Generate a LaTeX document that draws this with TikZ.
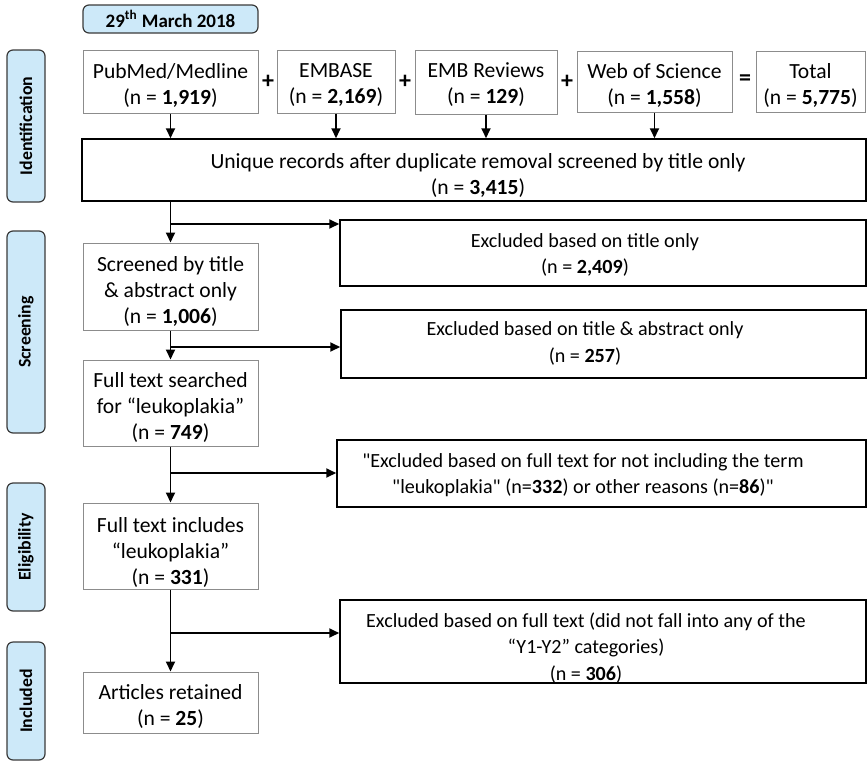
\documentclass[tikz,border=0pt]{standalone}
\usepackage{fontspec}
\setmainfont{Carlito}
\usetikzlibrary{arrows.meta,calc}
\definecolor{lblue}{HTML}{CDE9F9}
\definecolor{gbord}{HTML}{8C8C8C}
\definecolor{sideb}{HTML}{3A3A3A}
\newcommand\bx[8]{%
 \pgfmathsetmacro\bxcx{(#2+#4)/2}\pgfmathsetmacro\bxcy{(#3+#5)/2}%
 \pgfmathsetmacro\bxw{(#4-#2)*0.5}\pgfmathsetmacro\bxh{(#5-#3)*0.5}%
 \node[#6, minimum width=\bxw pt, minimum height=\bxh pt] (#1) at (\bxcx,\bxcy) {};
 \node[txt] (#1t) at (\bxcx,#7) {#8};}
\newcommand\bxt[9]{%
 \pgfmathsetmacro\bxcx{(#2+#4)/2}\pgfmathsetmacro\bxcy{(#3+#5)/2}%
 \pgfmathsetmacro\bxw{(#4-#2)*0.5}\pgfmathsetmacro\bxh{(#5-#3)*0.5}%
 \node[#6, minimum width=\bxw pt, minimum height=\bxh pt] (#1) at (\bxcx,\bxcy) {};
 \node[etxt] (#1t) at (#7,#8) {#9};}
\newcommand\sidelab[4]{%
 \pgfmathsetmacro\bxcy{(#2+#3)/2}\pgfmathsetmacro\bxh{(#3-#2)*0.5}%
 \node[side, minimum width=\bxh pt, minimum height=19pt, rotate=90] (#1) at (26,\bxcy) {#4};}
\newcommand\qd{\textquotedbl}
\begin{document}
\begin{tikzpicture}[x=0.5pt,y=-0.5pt,
  txt/.style={font=\fontsize{10.8}{13}\selectfont, align=center, inner sep=0pt},
  etxt/.style={font=\fontsize{10.05}{13.2}\selectfont, align=center, inner sep=0pt},
  gbox/.style={draw=gbord, line width=0.5pt, inner sep=0pt},
  kbox/.style={draw=black, line width=0.75pt, inner sep=0pt},
  side/.style={draw=sideb, fill=lblue, rounded corners=3pt, line width=0.6pt, inner sep=0pt,
    font=\fontsize{8.9}{11}\selectfont\bfseries},
  arr/.style={draw, line width=0.9pt, -{Triangle[length=5pt,width=4.5pt]}},
  op/.style={font=\fontsize{12}{14}\selectfont\bfseries, inner sep=0pt}]
\useasboundingbox (0,0) rectangle (868,762);
% date
\node[side, font=\fontsize{9.5}{11}\selectfont\bfseries, minimum width=87.5pt, minimum height=14pt] (date) at (170.5,19) {29\textsuperscript{th} March 2018};
% side labels
\sidelab{sid}{50}{202}{Identification}
\sidelab{sscr}{231}{433}{Screening}
\sidelab{selig}{483}{611}{Eligibility}
\sidelab{sinc}{642}{760}{Included}
% top row
\bx{pub}{83}{50}{258}{113}{gbox}{85}{PubMed/Medline\\(n = \textbf{1,919})}
\bx{emb}{277}{50}{395}{113}{gbox}{85}{EMBASE\\(n = \textbf{2,169})}
\bx{rev}{415}{50}{557}{114}{gbox}{85}{EMB Reviews\\(n = \textbf{129})}
\bx{wos}{577}{51}{732}{112}{gbox}{85}{Web of Science\\(n = \textbf{1,558})}
\bx{tot}{756}{51}{865}{112}{gbox}{85}{Total\\(n = \textbf{5,775})}
\node[op] (p1) at (268,82) {+};
\node[op] (p2) at (405,82) {+};
\node[op] (p3) at (567,82) {+};
\node[op] (eq) at (745,80) {=};
% unique
\node[kbox, minimum width=392pt, minimum height=31pt] (uniq) at (474,170) {};
\node[txt] (uniqt) at (478,175) {Unique records after duplicate removal screened by title only\\(n = \textbf{3,415})};
% left column
\bx{scr}{83}{243}{258}{330}{gbox}{291.5}{Screened by title\\\& abstract only\\(n = \textbf{1,006})}
\bx{ft}{83}{360}{258}{446}{gbox}{407}{Full text searched\\for “leukoplakia”\\(n = \textbf{749})}
\bx{inc}{83}{503}{258}{589}{gbox}{552}{Full text includes\\“leukoplakia”\\(n = \textbf{331})}
\bx{art}{83}{672}{258}{733}{gbox}{706}{Articles retained\\(n = \textbf{25})}
% exclusion boxes
\bxt{exa}{340}{220}{866}{286}{kbox}{585}{255}{Excluded based on title only\\(n = \textbf{2,409})}
\bxt{exb}{341}{310}{866}{378}{kbox}{585}{343.5}{Excluded based on title \& abstract only\\(n = \textbf{257})}
\bxt{exc}{337}{440}{866}{507}{kbox}{583}{475}{\qd Excluded based on full text for not including the term\\\qd leukoplakia\qd{} (n=\textbf{332}) or other reasons (n=\textbf{86})\qd}
\bxt{exd}{340}{600}{866}{683}{kbox}{586}{648}{Excluded based on full text (did not fall into any of the\\“Y1-Y2” categories)\\(n = \textbf{306})}
% arrows top
\draw[arr] (pub.south) -- (pub.south |- uniq.north);
\draw[arr] (emb.south) -- (emb.south |- uniq.north);
\draw[arr] (rev.south) -- (rev.south |- uniq.north);
\draw[arr] (wos.south) -- (wos.south |- uniq.north);
% trunk
\coordinate (b1) at (172,224);
\coordinate (b2) at (172,347);
\coordinate (b3) at (172,473);
\coordinate (b4) at (172,633);
\draw[arr] (uniq.south -| scr.north) -- (scr.north);
\draw[arr] (b1 -| scr.north) -- (b1 -| exa.west);
\draw[arr] (scr.south) -- (ft.north);
\draw[arr] (b2 -| scr.north) -- (b2 -| exb.west);
\draw[arr] (ft.south) -- (inc.north);
\draw[arr] (b3 -| ft.north) -- (b3 -| exc.west);
\draw[arr] (inc.south) -- (art.north);
\draw[arr] (b4 -| inc.north) -- (b4 -| exd.west);
\end{tikzpicture}
\end{document}
